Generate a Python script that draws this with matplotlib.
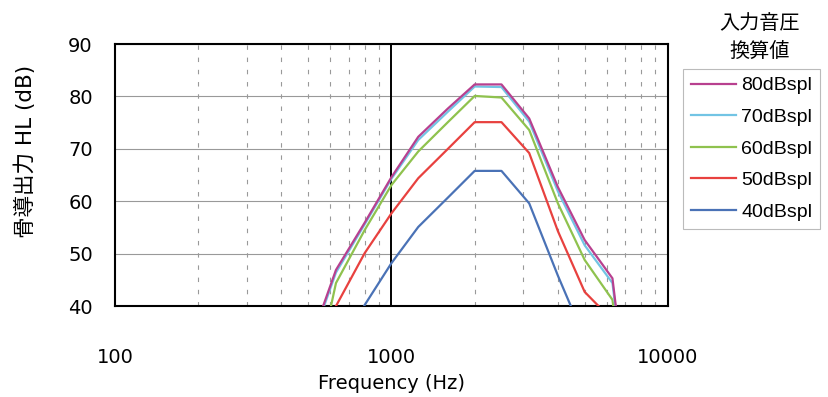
import matplotlib
matplotlib.use("Agg")
import matplotlib.pyplot as plt
from matplotlib.ticker import FixedLocator, NullFormatter

plt.rcParams['font.family'] = ['DejaVu Sans', 'Noto Sans CJK JP']

freqs = [500, 630, 800, 1000, 1250, 1600, 2000, 2500, 3150, 4000, 5000, 6300, 8000]
spl80 = [32.0, 46.9, 55.9, 64.6, 72.3, 77.7, 82.3, 82.3, 75.8, 62.7, 52.6, 45.3, 0.0]
spl70 = [31.5, 46.4, 55.6, 64.3, 71.7, 77.1, 81.9, 81.8, 75.2, 61.9, 51.6, 44.4, 0.0]
spl60 = [20.0, 44.4, 54.5, 63.1, 69.5, 75.1, 80.1, 79.8, 73.6, 59.6, 48.8, 41.2, 0.0]
spl50 = [30.0, 40.0, 50.1, 57.7, 64.4, 70.0, 75.1, 75.1, 69.2, 54.3, 42.7, 37.3, 20.0]
spl40 = [10.0, 30.0, 40.2, 48.2, 55.1, 60.7, 65.8, 65.8, 59.6, 45.8, 33.8, 20.0, 10.0]

labels = ['80dBspl', '70dBspl', '60dBspl', '50dBspl', '40dBspl']
colors = ['#b8408f', '#72c4e4', '#8fc24e', '#e8413f', '#4a72b6']
series = [spl80, spl70, spl60, spl50, spl40]

fig = plt.figure(figsize=(8.29, 3.97), dpi=100)
ax = fig.add_axes([0.1387, 0.229, 0.667, 0.66])

handles = []
for vals, c, lab in zip(series[::-1], colors[::-1], labels[::-1]):
    h, = ax.plot(freqs, vals, color=c, lw=1.6, label=lab, zorder=3)
    handles.append(h)
handles = handles[::-1]

ax.set_xscale('log')
ax.set_xlim(100, 10000)
ax.set_ylim(40, 90)
ax.set_yticks([40, 50, 60, 70, 80, 90])
ax.xaxis.set_major_locator(FixedLocator([100, 1000, 10000]))
ax.set_xticklabels(['100', '1000', '10000'])
minors = [m * d for d in (100, 1000) for m in range(2, 10)]
ax.xaxis.set_minor_locator(FixedLocator(minors))
ax.xaxis.set_minor_formatter(NullFormatter())
ax.tick_params(which='both', length=0, labelsize=14)
ax.tick_params(axis='x', pad=30)
ax.tick_params(axis='y', pad=16)

ax.grid(True, axis='y', color='#999999', lw=0.8)
ax.grid(True, axis='x', which='minor', color='#999999', lw=0.8, ls=(0, (4, 7)))
ax.axvline(1000, color='black', lw=1.4, zorder=2)

for s in ax.spines.values():
    s.set_linewidth(1.5)

ax.set_xlabel('Frequency (Hz)', fontsize=14, labelpad=5)
ax.set_ylabel('骨導出力 HL (dB)', fontsize=15.5)
ax.yaxis.set_label_coords(-0.142, 0.59)

leg = fig.legend(handles, labels, loc='upper left', bbox_to_anchor=(0.824, 0.826),
                 borderaxespad=0, prop={'family': ['Liberation Sans'], 'size': 14},
                 frameon=True, fancybox=False, edgecolor='#aaaaaa',
                 handlelength=2.3, handletextpad=0.3, labelspacing=0.72, borderpad=0.4)
leg.get_frame().set_linewidth(0.8)
fig.text(0.916, 0.905, '入力音圧\n換算値', ha='center', va='center', fontsize=14.5,
         linespacing=1.6)

fig.savefig('out.png', dpi=100)
